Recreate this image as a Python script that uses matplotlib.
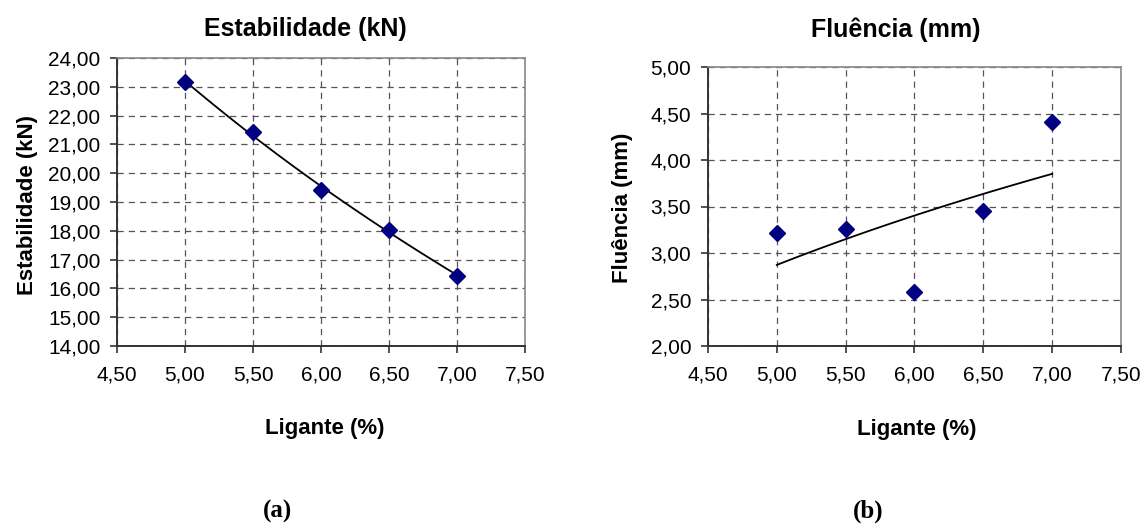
import numpy as np
import matplotlib
matplotlib.use("Agg")
import matplotlib.pyplot as plt
from matplotlib.ticker import FuncFormatter, MultipleLocator

plt.rcParams['font.family'] = ['Liberation Sans', 'DejaVu Sans']

ligante = [5.0, 5.5, 6.0, 6.5, 7.0]
estabilidade = [23.15, 21.43, 19.42, 18.02, 16.44]
fluencia = [3.21, 3.26, 2.58, 3.45, 4.41]

navy = '#000080'
W, H = 1144, 525


def comma(v, pos):
    return ('%.2f' % v).replace('.', ',')


def log_trend(x, y):
    # excel style logarithmic trend line
    b, a = np.polyfit(np.log(x), y, 1)
    xs = np.linspace(min(x), max(x), 100)
    return xs, a + b * np.log(xs)


def draw(ax, y, ylim, ystep, ylabel, ylab_xy, xlab_xy):
    xs, ys = log_trend(ligante, y)
    ax.plot(xs, ys, color='black', lw=1.3, zorder=3)
    ax.plot(ligante, y, 'D', color=navy, ms=8, zorder=4)
    ax.set_xlim(4.5, 7.5)
    ax.set_ylim(*ylim)
    ax.xaxis.set_major_locator(MultipleLocator(0.5))
    ax.yaxis.set_major_locator(MultipleLocator(ystep))
    ax.xaxis.set_major_formatter(FuncFormatter(comma))
    ax.yaxis.set_major_formatter(FuncFormatter(comma))
    ax.grid(True, color='#555555', ls=(0, (5, 4)), lw=0.9)
    ax.set_axisbelow(True)
    for s in ('top', 'right'):
        ax.spines[s].set_color('#888888')
        ax.spines[s].set_linewidth(1.2)
    for s in ('left', 'bottom'):
        ax.spines[s].set_color('#333333')
        ax.spines[s].set_linewidth(1.4)
    ax.tick_params(direction='out', length=5, width=1.2, color='#333333',
                   labelsize=15)
    ax.tick_params(axis='x', pad=9)
    ax.tick_params(axis='y', pad=7)
    ax.set_ylabel(ylabel, fontsize=16, fontweight='bold')
    ax.set_xlabel('Ligante (%)', fontsize=16, fontweight='bold')
    ax.xaxis.label.set_va('center')
    ax.yaxis.label.set_va('center')
    ax.yaxis.set_label_coords(*ylab_xy)
    ax.xaxis.set_label_coords(*xlab_xy)


fig = plt.figure(figsize=(W / 100, H / 100), dpi=100)
ax1 = fig.add_axes([117 / W, 1 - 346 / H, 408 / W, 288 / H])
ax2 = fig.add_axes([708 / W, 1 - 346 / H, 413 / W, 279 / H])

draw(ax1, estabilidade, (14, 24), 1, 'Estabilidade (kN)',
     (-0.22, 0.49), (0.51, -0.286))
draw(ax2, fluencia, (2, 5), 0.5, 'Flu\u00eancia (mm)',
     (-0.206, 0.497), (0.506, -0.301))

fig.text(305 / W, 1 - 29 / H, 'Estabilidade (kN)', fontsize=18,
         fontweight='bold', ha='center', va='center')
fig.text(896 / W, 1 - 30 / H, 'Flu\u00eancia (mm)', fontsize=18,
         fontweight='bold', ha='center', va='center')

fig.text(277 / W, 1 - 511 / H, '(a)', family='Liberation Serif',
         fontweight='bold', fontsize=18, ha='center', va='center')
fig.text(868 / W, 1 - 511 / H, '(b)', family='Liberation Serif',
         fontweight='bold', fontsize=18, ha='center', va='center')

fig.savefig('out.png', dpi=100)
